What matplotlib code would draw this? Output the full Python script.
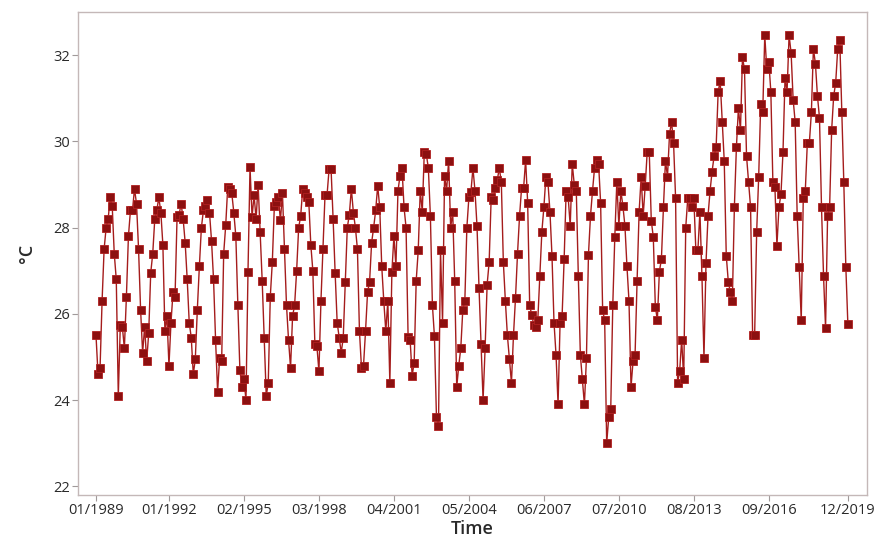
import matplotlib.pyplot as plt
import numpy as np

# Monthly mean temperature (°C), one row per year, Jan..Dec
t1989 = [25.5, 24.6, 24.75, 26.3, 27.5, 28.0, 28.2, 28.7, 28.5, 27.4, 26.8, 24.1]
t1990 = [25.75, 25.7, 25.2, 26.4, 27.8, 28.4, 28.4, 28.9, 28.55, 27.5, 26.1, 25.1]
t1991 = [25.7, 24.9, 25.55, 26.95, 27.4, 28.2, 28.4, 28.7, 28.35, 27.6, 25.6, 25.95]
t1992 = [24.8, 25.8, 26.5, 26.4, 28.25, 28.3, 28.55, 28.2, 27.65, 26.8, 25.8, 25.45]
t1993 = [24.6, 24.95, 26.1, 27.1, 28.0, 28.4, 28.5, 28.65, 28.35, 27.7, 26.8, 25.4]
t1994 = [24.2, 24.97, 24.9, 27.4, 28.05, 28.95, 28.9, 28.8, 28.35, 27.8, 26.2, 24.7]
t1995 = [24.3, 24.5, 24.0, 26.98, 29.4, 28.25, 28.75, 28.2, 29.0, 27.9, 26.77, 25.45]
t1996 = [24.1, 24.4, 26.4, 27.2, 28.5, 28.6, 28.7, 28.17, 28.8, 27.5, 26.2, 25.4]
t1997 = [24.75, 25.95, 26.2, 27.0, 28.0, 28.27, 28.9, 28.8, 28.7, 28.6, 27.6, 27.0]
t1998 = [25.3, 25.25, 24.67, 26.3, 27.5, 28.75, 28.75, 29.35, 29.35, 28.2, 26.95, 25.8]
t1999 = [25.45, 25.1, 25.45, 26.75, 28.0, 28.3, 28.9, 28.35, 28.0, 27.5, 25.6, 24.75]
t2000 = [24.8, 25.6, 26.5, 26.75, 27.65, 28.0, 28.4, 28.97, 28.47, 27.1, 26.3, 25.6]
t2001 = [26.3, 24.4, 26.97, 27.8, 27.1, 28.85, 29.2, 29.38, 28.47, 28.0, 25.47, 25.4]
t2002 = [24.57, 24.87, 26.77, 27.47, 28.86, 28.37, 29.76, 29.7, 29.38, 28.27, 26.2, 25.48]
t2003 = [23.6, 23.4, 27.47, 25.8, 29.2, 28.86, 29.55, 28.0, 28.37, 26.77, 24.3, 24.8]
t2004 = [25.2, 26.1, 26.3, 28.0, 28.7, 28.83, 29.38, 28.86, 28.04, 26.6, 25.29, 24.0]
t2005 = [25.2, 26.68, 27.2, 28.7, 28.63, 28.92, 29.1, 29.38, 29.06, 27.2, 26.3, 25.5]
t2006 = [24.95, 24.4, 25.5, 26.37, 27.4, 28.27, 28.92, 28.92, 29.57, 28.58, 26.2, 25.98]
t2007 = [25.75, 25.7, 25.85, 26.88, 27.9, 28.47, 29.18, 29.06, 28.37, 27.35, 25.8, 25.05]
t2008 = [23.9, 25.8, 25.96, 27.27, 28.85, 28.7, 28.04, 29.48, 29.0, 28.85, 26.88, 25.05]
t2009 = [24.48, 23.9, 24.97, 27.37, 28.27, 28.85, 29.38, 29.57, 29.48, 28.58, 26.08, 25.85]
t2010 = [23.0, 23.6, 23.8, 26.2, 27.78, 29.06, 28.04, 28.85, 28.5, 28.04, 27.1, 26.3]
t2011 = [24.3, 24.9, 25.05, 26.77, 28.37, 29.17, 28.27, 28.97, 29.76, 29.76, 28.16, 27.78]
t2012 = [26.17, 25.86, 26.98, 27.27, 28.47, 29.55, 29.18, 30.17, 30.45, 29.96, 28.68, 24.4]
t2013 = [24.67, 25.4, 24.48, 28.0, 28.68, 28.68, 28.47, 28.68, 27.47, 27.47, 28.37, 26.88]
t2014 = [24.97, 27.18, 28.27, 28.85, 29.3, 29.66, 29.86, 31.15, 31.4, 30.45, 29.55, 27.35]
t2015 = [26.75, 26.5, 26.3, 28.47, 29.86, 30.77, 30.26, 31.95, 31.67, 29.66, 29.06, 28.47]
t2016 = [25.52, 25.5, 27.9, 29.18, 30.87, 30.67, 32.46, 31.67, 31.85, 31.15, 29.06, 28.95]
t2017 = [27.58, 28.47, 28.78, 29.76, 31.47, 31.15, 32.46, 32.05, 30.97, 30.45, 28.27, 27.09]
t2018 = [25.85, 28.68, 28.85, 29.96, 29.96, 30.67, 32.15, 31.8, 31.05, 30.55, 28.47, 26.88]
t2019 = [25.67, 28.27, 28.47, 30.26, 31.05, 31.36, 32.15, 32.36, 30.67, 29.06, 27.09, 25.77]

tick_index = [1, 37, 74, 111, 148, 185, 222, 259, 296, 333, 372]
tick_labels = ["01/1989", "01/1992", "02/1995", "03/1998", "04/2001", "05/2004",
               "06/2007", "07/2010", "08/2013", "09/2016", "12/2019"]
y_ticks = [22, 24, 26, 28, 30, 32]

temps = np.concatenate([t1989, t1990, t1991, t1992, t1993, t1994, t1995, t1996,
                        t1997, t1998, t1999, t2000, t2001, t2002, t2003, t2004,
                        t2005, t2006, t2007, t2008, t2009, t2010, t2011, t2012,
                        t2013, t2014, t2015, t2016, t2017, t2018, t2019])
index = np.arange(1, len(temps) + 1)

plt.rcParams["font.family"] = ["Open Sans", "DejaVu Sans"]

fig = plt.figure(figsize=(8.81, 5.46), dpi=100)
ax = fig.add_axes([0.0885, 0.0934, 0.8955, 0.8846])

ax.plot(index, temps, color="#a51c1c", linewidth=1.0, marker="s",
        markersize=5.5, markerfacecolor="#8c1010", markeredgecolor="#b02020",
        markeredgewidth=0.6)

ax.set_xlim(-7.9, 381.4)
ax.set_ylim(21.8, 33.0)
ax.set_xticks(tick_index)
ax.set_xticklabels(tick_labels)
ax.set_yticks(y_ticks)

for s in ax.spines.values():
    s.set_color("#c4b8b8")
    s.set_linewidth(1.0)
ax.tick_params(axis="both", direction="out", length=4, width=0.8,
               color="#a09a9a", labelsize=10.5, labelcolor="#2a2a2a", pad=2)

ax.set_xlabel("Time", fontsize=13, fontweight="semibold", color="#2a2a2a", labelpad=1)
ax.set_ylabel("°C", fontsize=13, fontweight="semibold", color="#2a2a2a", labelpad=12)

fig.savefig("out.png", dpi=100, facecolor="white")
